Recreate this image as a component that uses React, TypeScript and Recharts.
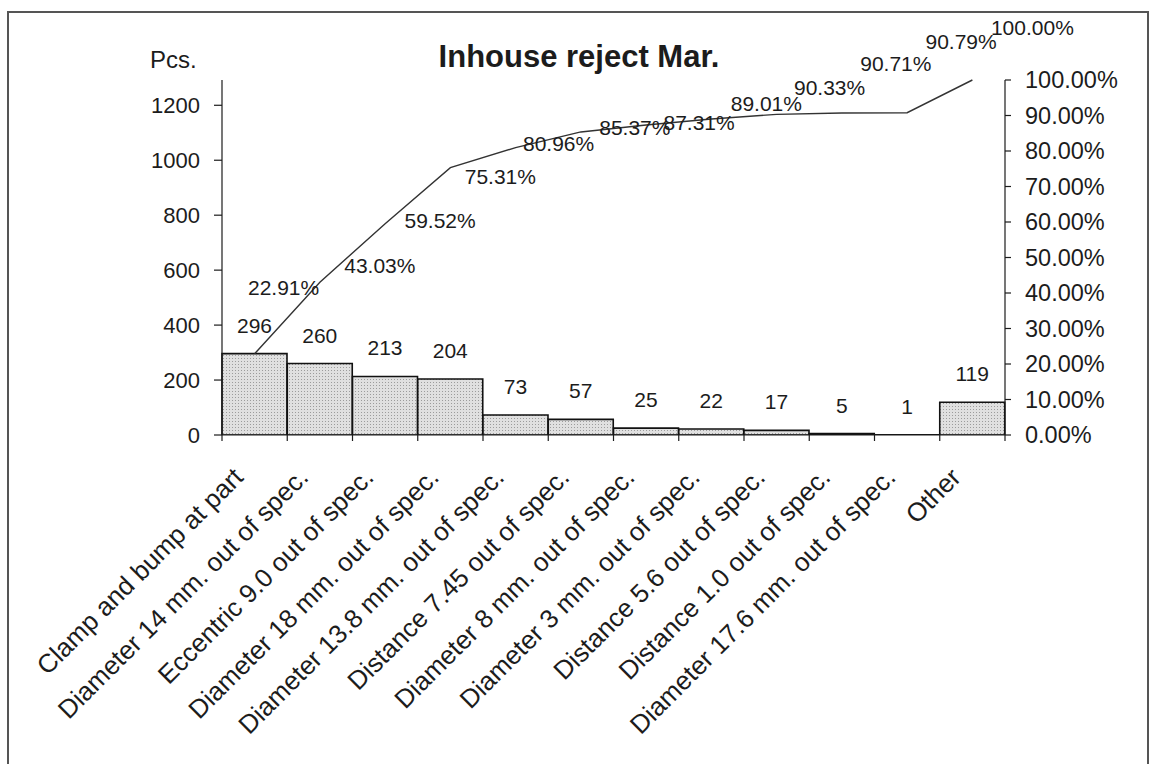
import React from "react";
import { ComposedChart, Bar, Line, XAxis, YAxis, LabelList } from "recharts";

const categories = [
  "Clamp and bump at part",
  "Diameter 14 mm. out of spec.",
  "Eccentric 9.0 out of spec.",
  "Diameter 18 mm. out of spec.",
  "Diameter 13.8 mm. out of spec.",
  "Distance 7.45 out of spec.",
  "Diameter 8 mm. out of spec.",
  "Diameter 3 mm. out of spec.",
  "Distance 5.6 out of spec.",
  "Distance 1.0 out of spec.",
  "Diameter 17.6 mm. out of spec.",
  "Other",
];
const rejects = [296, 260, 213, 204, 73, 57, 25, 22, 17, 5, 1, 119];
const cumulative = [0.2291, 0.4303, 0.5952, 0.7531, 0.8096, 0.8537, 0.8731, 0.8901, 0.9033, 0.9071, 0.9079, 1.0];
const pcsTicks = [0, 200, 400, 600, 800, 1000, 1200];
const pctTicks = [0, 0.1, 0.2, 0.3, 0.4, 0.5, 0.6, 0.7, 0.8, 0.9, 1.0];

const totalPcs = rejects.reduce((a, b) => a + b, 0);

const data = categories.map((name, i) => ({
  name,
  pcs: rejects[i],
  cum: cumulative[i],
}));

// where each % label sits relative to its point (label centre), as in the sheet
const pctLabelShift = [
  [29, -66], [60, -17], [55, -3], [50, 9], [43, -4], [54, -4],
  [53, -3], [55, -16], [53, -27], [54, -50], [54, -71], [60, -53],
];

const FONT = '"Liberation Sans", Arial, sans-serif';
const INK = "#1c1c1c";

const fmtPct = (v: number) => (v * 100).toFixed(2) + "%";

function CategoryTick(props: any) {
  const { x, y, payload, index } = props;
  const half = payload.offset || 0;
  return (
    <g transform={`translate(${x},${y})`}>
      <line x1={-half} y1={0} x2={-half} y2={6} stroke={INK} strokeWidth={1.2} />
      {index === categories.length - 1 && (
        <line x1={half} y1={0} x2={half} y2={6} stroke={INK} strokeWidth={1.2} />
      )}
      <text
        x={0}
        y={0}
        transform="translate(-10,44) rotate(-45)"
        textAnchor="end"
        fontFamily={FONT}
        fontSize={26}
        fill={INK}
      >
        {payload.value}
      </text>
    </g>
  );
}

function PctLabel(props: any) {
  const { x, y, value, index } = props;
  const s = pctLabelShift[index] || [50, 0];
  return (
    <text
      x={x + s[0]}
      y={y + s[1]}
      dy="0.36em"
      textAnchor="middle"
      fontFamily={FONT}
      fontSize={21}
      fill={INK}
    >
      {fmtPct(value)}
    </text>
  );
}

export default function App() {
  return (
    <div style={{ position: "absolute", left: 0, top: 0, width: 1152, height: 764, background: "#fff", overflow: "hidden" }}>
      <div
        style={{
          position: "absolute",
          left: 7,
          top: 11,
          width: 1142,
          height: 760,
          border: "2px solid #555",
          borderBottom: "none",
          boxSizing: "border-box",
        }}
      />
      <svg width={1152} height={764} style={{ position: "absolute", left: 0, top: 0 }}>
        <text x={579} y={67} textAnchor="middle" fontFamily={FONT} fontWeight="bold" fontSize={31} fill={INK}>
          Inhouse reject Mar.
        </text>
        <text x={150} y={68} fontFamily={FONT} fontSize={24} fill={INK}>
          Pcs.
        </text>
      </svg>
      <div style={{ position: "absolute", left: 0, top: 0 }}>
        <ComposedChart
          width={1152}
          height={764}
          data={data}
          margin={{ top: 80, right: 47, bottom: 29, left: 152 }}
          barCategoryGap={0}
          barGap={0}
        >
          <defs>
            <pattern id="stipple" width="3" height="3" patternUnits="userSpaceOnUse">
              <rect width="3" height="3" fill="#e0e0e0" />
              <rect x="1" y="1" width="1" height="1" fill="#9c9c9c" />
            </pattern>
          </defs>
          <XAxis
            dataKey="name"
            xAxisId="cat"
            height={300}
            interval={0}
            tickLine={false}
            tickSize={0}
            tickMargin={0}
            axisLine={{ stroke: INK, strokeWidth: 1.2 }}
            tick={<CategoryTick />}
          />
          <YAxis
            yAxisId="pcs"
            orientation="left"
            width={70}
            domain={[0, totalPcs]}
            ticks={pcsTicks}
            allowDataOverflow
            tickSize={8}
            tickMargin={14}
            axisLine={{ stroke: INK, strokeWidth: 1.2 }}
            tickLine={{ stroke: INK, strokeWidth: 1.2 }}
            tick={{ fontFamily: FONT, fontSize: 22, fill: INK }}
          />
          <YAxis
            yAxisId="pct"
            orientation="right"
            width={100}
            domain={[0, 1]}
            ticks={pctTicks}
            tickFormatter={fmtPct}
            tickSize={6}
            tickMargin={14}
            axisLine={{ stroke: INK, strokeWidth: 1.2 }}
            tickLine={{ stroke: INK, strokeWidth: 1.2 }}
            tick={{ fontFamily: FONT, fontSize: 23.5, fill: INK }}
          />
          <Bar
            dataKey="pcs"
            xAxisId="cat"
            yAxisId="pcs"
            fill="url(#stipple)"
            stroke="#111"
            strokeWidth={1.6}
            isAnimationActive={false}
          >
            <LabelList
              dataKey="pcs"
              position="top"
              offset={21}
              style={{ fontFamily: FONT, fontSize: 21, fill: INK }}
            />
          </Bar>
          <Line
            dataKey="cum"
            xAxisId="cat"
            yAxisId="pct"
            type="linear"
            stroke="#333"
            strokeWidth={1.4}
            dot={false}
            activeDot={false}
            isAnimationActive={false}
          >
            <LabelList dataKey="cum" content={<PctLabel />} />
          </Line>
        </ComposedChart>
      </div>
    </div>
  );
}
